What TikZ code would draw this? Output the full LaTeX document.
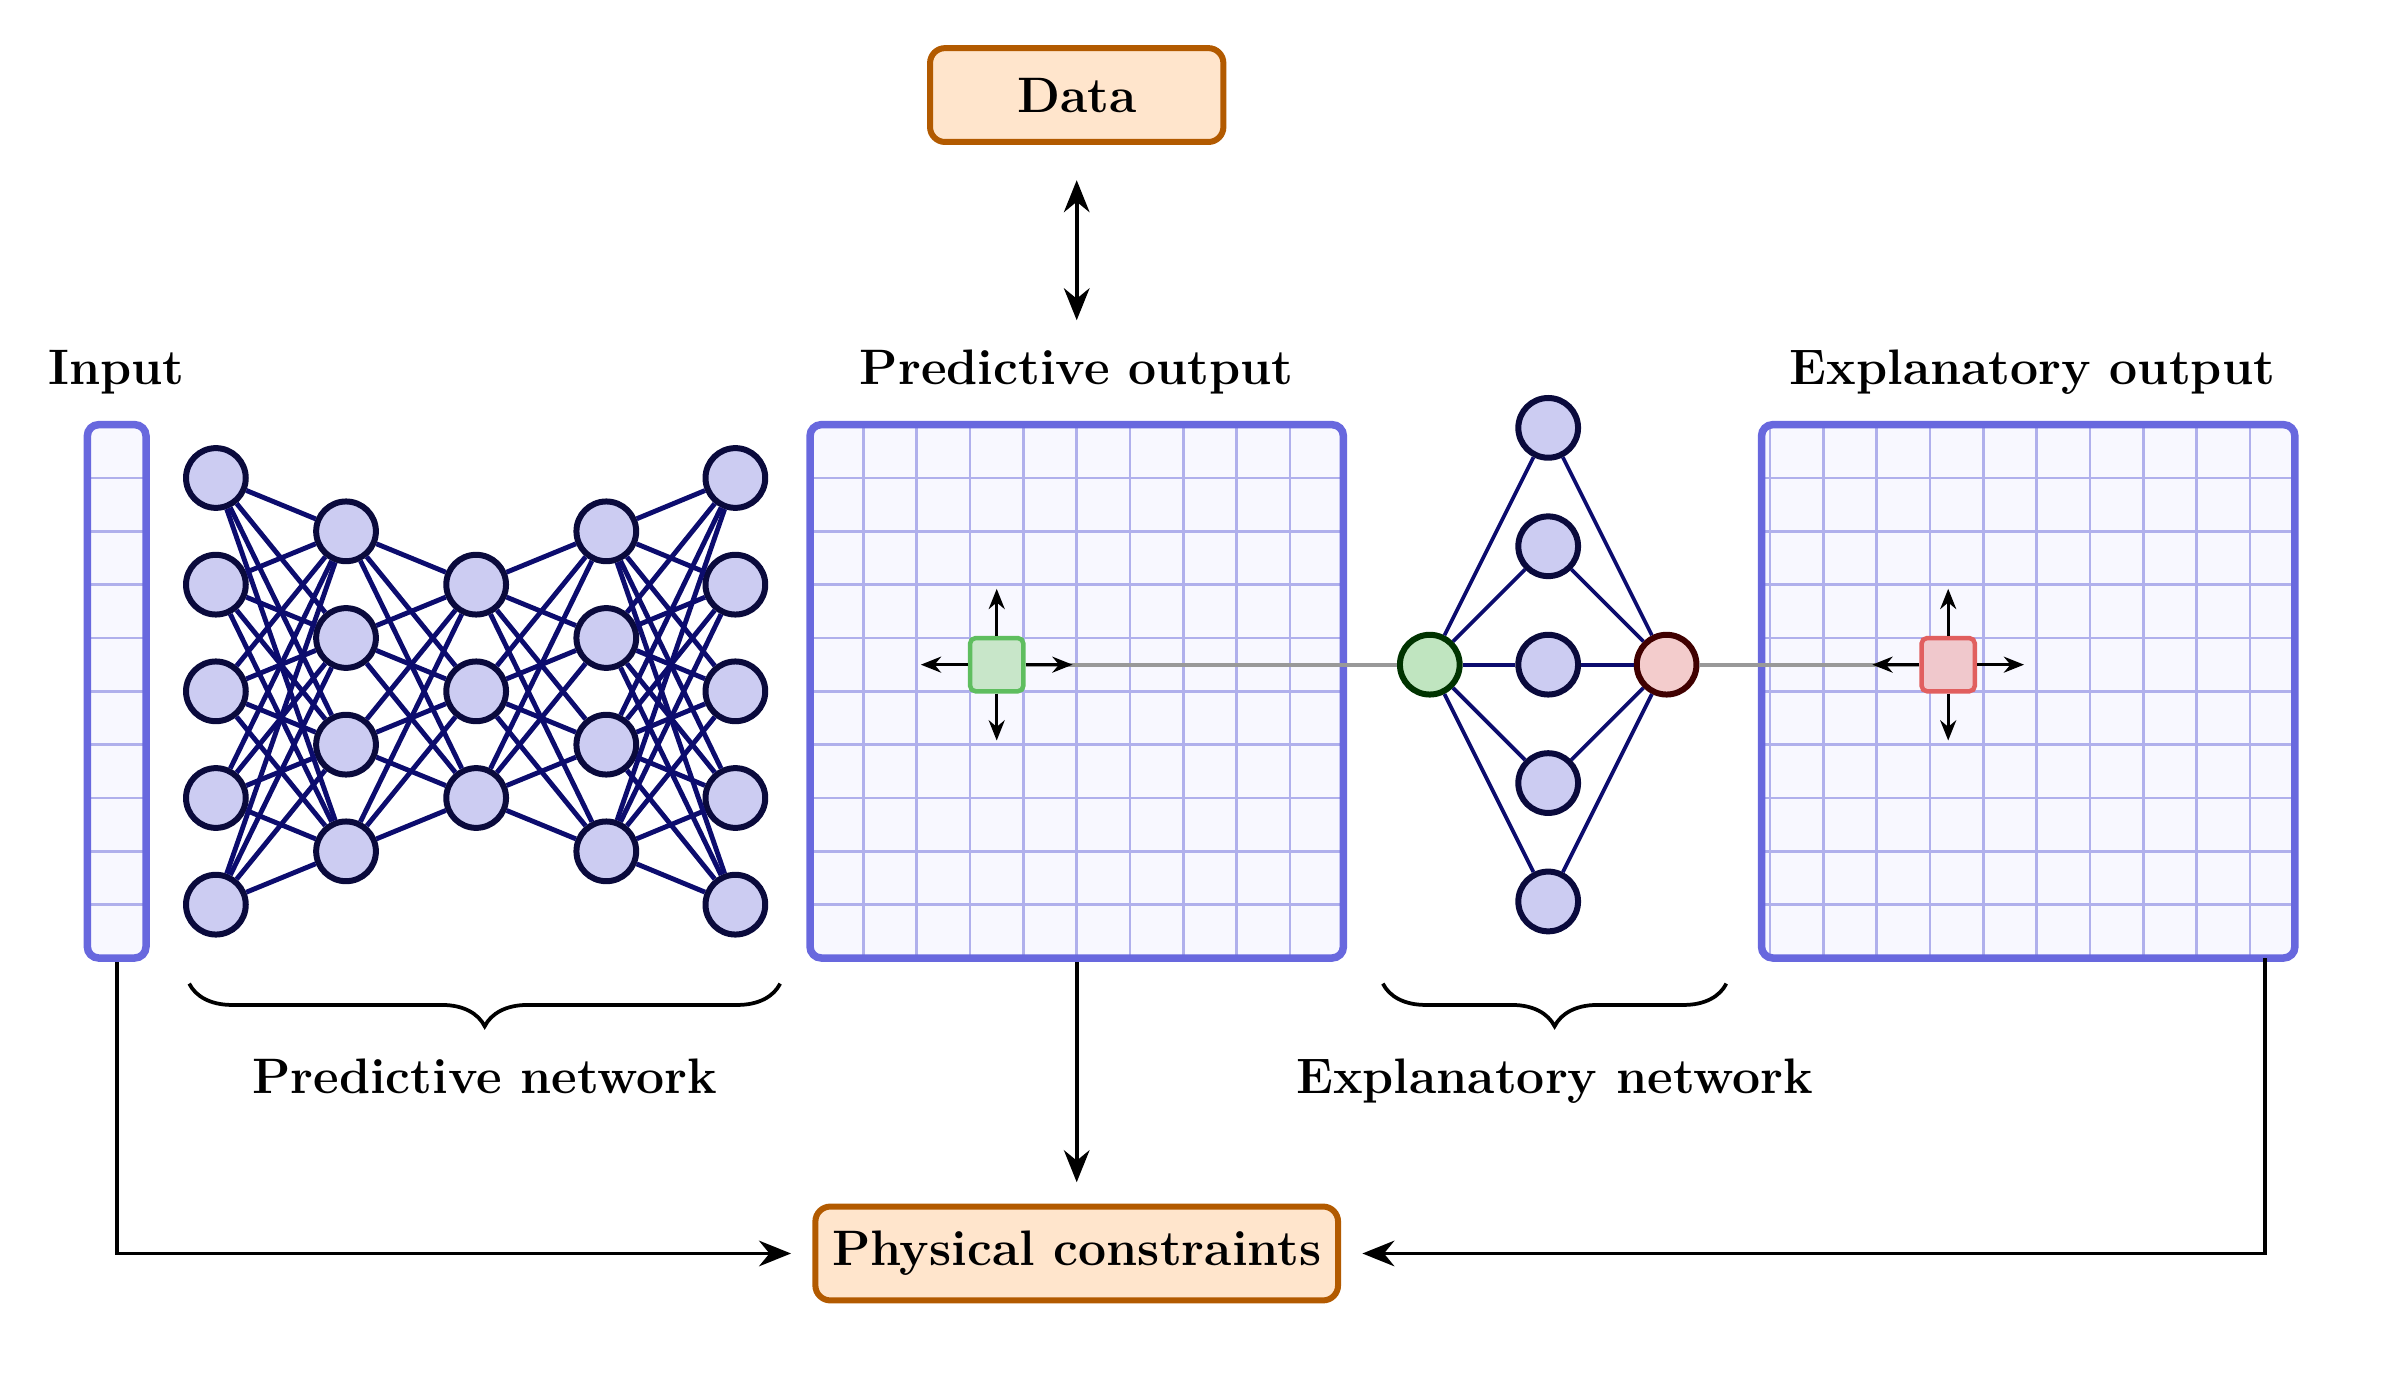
\documentclass[tikz,border=0pt]{standalone}
\usepackage{amsmath}
\usepackage{xcolor}
\usepackage{tikz}
\usetikzlibrary{arrows.meta,decorations.pathreplacing}
\definecolor{gridblue}{RGB}{104,104,222}
\definecolor{cellblue}{RGB}{176,176,236}
\definecolor{paleblue}{RGB}{248,248,255}
\definecolor{nodefill}{RGB}{204,204,242}
\definecolor{nodeline}{RGB}{10,10,60}
\definecolor{wireblue}{RGB}{12,12,110}
\definecolor{boxfill}{RGB}{255,229,204}
\definecolor{boxline}{RGB}{178,90,0}
\definecolor{gfill}{RGB}{192,229,192}
\definecolor{gline}{RGB}{0,51,0}
\definecolor{rfill}{RGB}{243,204,204}
\definecolor{rline}{RGB}{64,0,0}
\definecolor{gsqfill}{RGB}{200,230,201}
\definecolor{gsqline}{RGB}{95,190,95}
\definecolor{rsqfill}{RGB}{240,200,204}
\definecolor{rsqline}{RGB}{225,95,95}

\begin{document}
\begin{tikzpicture}[
	txtlbl/.style={font=\fontsize{13.3pt}{15pt}\selectfont\bfseries},
	orangebox/.style={txtlbl,draw=boxline,fill=boxfill,ultra thick,rounded corners=4pt,minimum height=0.88cm},
	gridframe/.style={draw=gridblue,line width=2pt,rounded corners=3pt,inner sep=0pt},
	gridlines/.style={draw=cellblue,line width=0.7pt},
	neuron/.style={circle,draw=nodeline,fill=nodefill,ultra thick,minimum size=0.56cm,inner sep=0pt},
	predwire/.style={draw=wireblue,line width=1.3pt},
	explwire/.style={draw=wireblue,line width=1pt},
	pickcell/.style={draw,very thick,rounded corners=1.5pt,minimum size=0.5cm,inner sep=0pt},
	nudgearrow/.style={thick,-{Stealth[length=1.9mm,width=1.5mm]}},
	flowarrow/.style={line width=1pt,-{Stealth[length=3mm,width=2.4mm]}},
	greylink/.style={draw=gray!80,line width=1.1pt},
	bracedeco/.style={decorate,decoration={brace,mirror,amplitude=0.4cm},line width=1pt}]
					\useasboundingbox (-7.594,-3.994) rectangle (14.793,8.981);

					% input column
					\fill[paleblue,rounded corners=3pt] (-6.775,0) rectangle (-6.225,5);
					\foreach \y in {0.5,1,...,4.5}
						\draw[gridlines] (-6.775,\y) -- (-6.225,\y);
					\node (inp) [gridframe,minimum width=0.55cm,minimum height=5cm] at (-6.5,2.5) {};
					\node (tin) [txtlbl,anchor=base] at (-6.5,5.38) {Input};

					% predictive output
					\fill[paleblue,rounded corners=3pt] (0,0) rectangle (5,5);
					\draw[gridlines,step=0.5cm] (0.01,0.01) grid (4.99,4.99);
					\node (pred) [gridframe,minimum size=5cm] at (2.5,2.5) {};
					\node (tpred) [txtlbl,anchor=base] at (2.5,5.38) {Predictive output};

					% explanatory output
					\fill[paleblue,rounded corners=3pt] (8.92,0) rectangle (13.92,5);
					\draw[gridlines,step=0.5cm] (8.93,0.01) grid (13.91,4.99);
					\node (expl) [gridframe,minimum size=5cm] at (11.42,2.5) {};
					\node (texpl) [txtlbl,anchor=base] at (11.46,5.38) {Explanatory output};

					\node (data) [orangebox,minimum width=2.75cm] at (2.5,8.09) {Data};
					\node (phys) [orangebox,minimum width=4.9cm,inner xsep=3pt] at (2.5,-2.77) {Physical constraints};

					% predictive network
					\node (a1) [neuron] at (-5.57,4.5) {};
					\node (a2) [neuron] at (-5.57,3.5) {};
					\node (a3) [neuron] at (-5.57,2.5) {};
					\node (a4) [neuron] at (-5.57,1.5) {};
					\node (a5) [neuron] at (-5.57,0.5) {};
					\node (b1) [neuron] at (-4.35,4) {};
					\node (b2) [neuron] at (-4.35,3) {};
					\node (b3) [neuron] at (-4.35,2) {};
					\node (b4) [neuron] at (-4.35,1) {};
					\node (c1) [neuron] at (-3.13,3.5) {};
					\node (c2) [neuron] at (-3.13,2.5) {};
					\node (c3) [neuron] at (-3.13,1.5) {};
					\node (d1) [neuron] at (-1.91,4) {};
					\node (d2) [neuron] at (-1.91,3) {};
					\node (d3) [neuron] at (-1.91,2) {};
					\node (d4) [neuron] at (-1.91,1) {};
					\node (e1) [neuron] at (-0.7,4.5) {};
					\node (e2) [neuron] at (-0.7,3.5) {};
					\node (e3) [neuron] at (-0.7,2.5) {};
					\node (e4) [neuron] at (-0.7,1.5) {};
					\node (e5) [neuron] at (-0.7,0.5) {};
					\foreach \i in {1,...,5}
						\foreach \j in {1,...,4} {
							\draw[predwire] (a\i) -- (b\j);
							\draw[predwire] (e\i) -- (d\j);
						}
					\foreach \i in {1,...,4}
						\foreach \j in {1,...,3} {
							\draw[predwire] (b\i) -- (c\j);
							\draw[predwire] (d\i) -- (c\j);
						}

					% explanatory network
					\node (g) [neuron,draw=gline,fill=gfill] at (5.81,2.75) {};
					\node (r) [neuron,draw=rline,fill=rfill] at (8.03,2.75) {};
					\node (m1) [neuron] at (6.92,4.97) {};
					\node (m2) [neuron] at (6.92,3.86) {};
					\node (m3) [neuron] at (6.92,2.75) {};
					\node (m4) [neuron] at (6.92,1.64) {};
					\node (m5) [neuron] at (6.92,0.53) {};
					\foreach \i in {1,...,5} {
						\draw[explwire] (g) -- (m\i);
						\draw[explwire] (m\i) -- (r);
					}

					% picked cells
					\node (gsq) [pickcell,draw=gsqline,fill=gsqfill] at (1.75,2.75) {};
					\node (rsq) [pickcell,draw=rsqline,fill=rsqfill] at (10.67,2.75) {};
					\draw[greylink] (gsq) -- (g);
					\draw[greylink] (r) -- (rsq);
					\draw[nudgearrow] (gsq.east) -- ([xshift=0.44cm]gsq.east);
					\draw[nudgearrow] (gsq.west) -- ([xshift=-0.44cm]gsq.west);
					\draw[nudgearrow] (gsq.north) -- ([yshift=0.44cm]gsq.north);
					\draw[nudgearrow] (gsq.south) -- ([yshift=-0.44cm]gsq.south);
					\draw[nudgearrow] (rsq.east) -- ([xshift=0.44cm]rsq.east);
					\draw[nudgearrow] (rsq.west) -- ([xshift=-0.44cm]rsq.west);
					\draw[nudgearrow] (rsq.north) -- ([yshift=0.44cm]rsq.north);
					\draw[nudgearrow] (rsq.south) -- ([yshift=-0.44cm]rsq.south);

					% braces
					\coordinate (pb1) at (-5.82,-0.24);
					\coordinate (pb2) at (-0.28,-0.24);
					\coordinate (eb1) at (5.37,-0.24);
					\coordinate (eb2) at (8.59,-0.24);
					\draw[bracedeco] (pb1) -- (pb2) node[txtlbl,midway,below=0.57cm] (pnet) {Predictive network};
					\draw[bracedeco] (eb1) -- (eb2) node[txtlbl,midway,below=0.57cm] (enet) {Explanatory network};

					% connectors
					\coordinate (eo) at (13.64,0);
					\draw[line width=1pt,{Stealth[length=3mm,width=2.4mm]}-{Stealth[length=3mm,width=2.4mm]},shorten <=0.15cm,shorten >=0.33cm] (tpred.north) -- (data.south);
					\draw[flowarrow,shorten >=0.2cm] (pred.south) -- (phys.north);
					\draw[flowarrow,shorten >=0.2cm] (inp.south) |- (phys.west);
					\draw[flowarrow,shorten >=0.2cm] (eo) |- (phys.east);
				\end{tikzpicture}
\end{document}
